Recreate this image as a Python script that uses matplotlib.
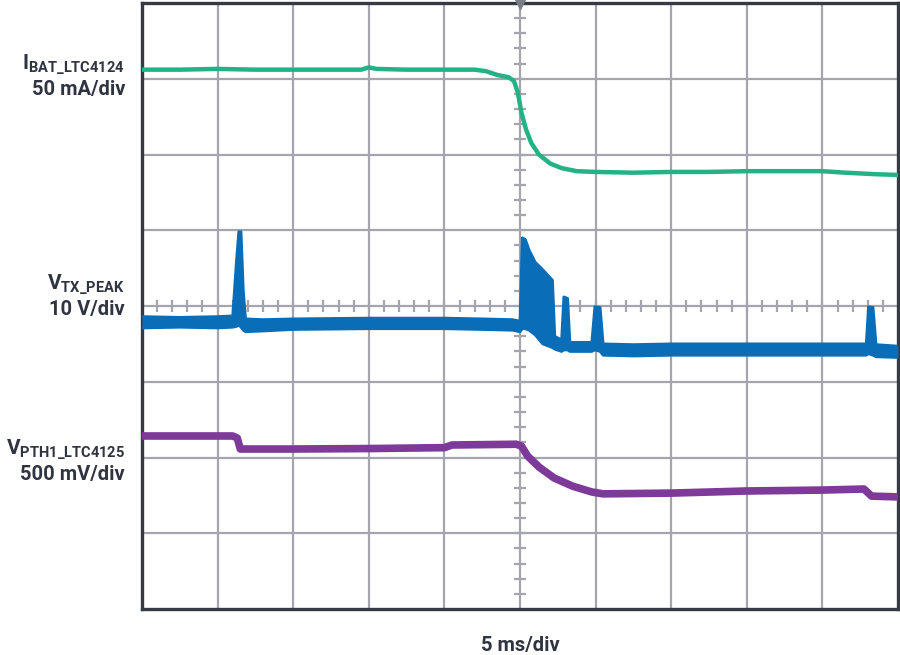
import numpy as np
import matplotlib
matplotlib.use("Agg")
import matplotlib.pyplot as plt

plt.rcParams['font.family'] = ['Roboto', 'DejaVu Sans']
plt.rcParams['mathtext.fontset'] = 'custom'
plt.rcParams['mathtext.bf'] = 'Roboto:bold'
plt.rcParams['mathtext.rm'] = 'Roboto:bold'
plt.rcParams['mathtext.default'] = 'bf'

# scope traces, in divisions (x: 0..10 div, y: 0..8 div)
ibat_x = [0, 0.5, 1.0, 1.5, 2.0, 2.5, 2.9, 3.0, 3.1, 3.5, 4.0, 4.4, 4.55, 4.7, 4.85, 4.92,
          4.97, 5.02, 5.08, 5.15, 5.25, 5.4, 5.55, 5.75, 6.0, 6.5, 7.0, 7.5, 8.0, 8.5, 9.0,
          9.3, 9.5, 9.7, 10.0]
ibat_y = [7.12, 7.12, 7.13, 7.12, 7.12, 7.12, 7.12, 7.15, 7.13, 7.12, 7.12, 7.12, 7.10, 7.05,
          7.02, 6.97, 6.82, 6.55, 6.33, 6.15, 6.00, 5.88, 5.82, 5.78, 5.77, 5.76, 5.77, 5.77,
          5.78, 5.78, 5.78, 5.76, 5.75, 5.74, 5.73]

vtx_x = [0, 0.5, 1.0, 1.2, 1.25, 1.28, 1.31, 1.34, 1.37, 1.6, 2.0, 3.0, 4.0, 4.5, 4.9, 5.0,
         5.03, 5.07, 5.12, 5.2, 5.3, 5.43, 5.46, 5.55, 5.58, 5.63, 5.66, 5.95, 5.99, 6.06,
         6.1, 6.5, 7.0, 8.0, 9.0, 9.58, 9.61, 9.67, 9.71, 10.0]
vtx_lo = [3.71, 3.72, 3.71, 3.72, 3.73, 3.75, 3.72, 3.68, 3.66, 3.67, 3.69, 3.70, 3.70, 3.69,
          3.68, 3.66, 3.70, 3.70, 3.68, 3.62, 3.50, 3.45, 3.43, 3.40, 3.42, 3.42, 3.40, 3.40,
          3.42, 3.40, 3.35, 3.34, 3.35, 3.35, 3.35, 3.35, 3.37, 3.35, 3.33, 3.32]
vtx_hi = [3.86, 3.85, 3.86, 3.87, 4.60, 4.98, 4.98, 4.20, 3.83, 3.82, 3.83, 3.84, 3.84, 3.83,
          3.82, 3.80, 4.90, 4.88, 4.74, 4.58, 4.48, 4.34, 3.60, 3.55, 4.12, 4.10, 3.52, 3.52,
          3.99, 3.98, 3.50, 3.49, 3.50, 3.50, 3.50, 3.50, 3.99, 3.98, 3.49, 3.47]

vpth_x = [0, 1.2, 1.26, 1.3, 2.0, 3.0, 4.0, 4.1, 4.95, 5.02, 5.1, 5.25, 5.45, 5.7, 5.95,
          6.1, 7.0, 8.0, 9.0, 9.55, 9.65, 10.0]
vpth_y = [2.284, 2.284, 2.257, 2.112, 2.112, 2.118, 2.13, 2.165, 2.175, 2.15, 2.02, 1.875,
          1.73, 1.62, 1.545, 1.52, 1.53, 1.558, 1.57, 1.584, 1.49, 1.48]

labels = [(r'$I_{BAT\_LTC4124}$', '50 mA/div'),
          (r'$V_{TX\_PEAK}$', '10 V/div'),
          (r'$V_{PTH1\_LTC4125}$', '500 mV/div')]
label_y = [70, 290, 455]   # baseline pixel rows of the symbol lines
xlabel = '5 ms/div'

W, H = 900, 655
fig = plt.figure(figsize=(W / 100, H / 100), dpi=100)
ax = fig.add_axes([142 / W, 46 / H, 756 / W, 606 / H])
ax.set_xlim(0, 10)
ax.set_ylim(0, 8)
ax.set_xticks([])
ax.set_yticks([])

grid_c = '#a4a5ad'
for gx in range(1, 10):
    ax.axvline(gx, color=grid_c, lw=1.6, zorder=1)
for gy in range(1, 8):
    ax.axhline(gy, color=grid_c, lw=1.6, zorder=1)

# centre graticule minor ticks
minor = np.round(np.arange(0.2, 10, 0.2), 2)
ax.plot(minor, np.full_like(minor, 4.0), ls='none', marker='|', ms=8, mew=1.6,
        color=grid_c, zorder=1)
minor_y = np.round(np.arange(0.2, 8, 0.2), 2)
ax.plot(np.full_like(minor_y, 5.0), minor_y, ls='none', marker='_', ms=8, mew=1.6,
        color=grid_c, zorder=1)
ax.plot([5], [8], marker='v', ms=9, color='#7a7d86', clip_on=False, zorder=6)

for s in ax.spines.values():
    s.set_color('#353a45')
    s.set_linewidth(2.4)

ax.plot(ibat_x, ibat_y, color='#22b286', lw=3.2, zorder=3, solid_joinstyle='round')
ax.fill_between(vtx_x, vtx_lo, vtx_hi, color='#0a6db7', lw=0, zorder=3)
ax.plot(vtx_x, vtx_hi, color='#0a6db7', lw=2.0, zorder=3)
ax.plot(vtx_x, vtx_lo, color='#0a6db7', lw=2.0, zorder=3)
ax.plot(vpth_x, vpth_y, color='#7e3a99', lw=5.5, zorder=3, solid_capstyle='butt')

txt_c = '#2f3440'
for (sym, scale), py in zip(labels, label_y):
    fig.text(125 / W, 1 - py / H, sym, ha='right', va='baseline', fontsize=15, color=txt_c)
    fig.text(125 / W, 1 - (py + 25) / H, scale, ha='right', va='baseline', fontsize=14.5,
             fontweight='bold', color=txt_c)
fig.text(520 / W, 1 - 651 / H, xlabel, ha='center', va='baseline', fontsize=14.5,
         fontweight='bold', color=txt_c)

fig.savefig('out.png', dpi=100)
